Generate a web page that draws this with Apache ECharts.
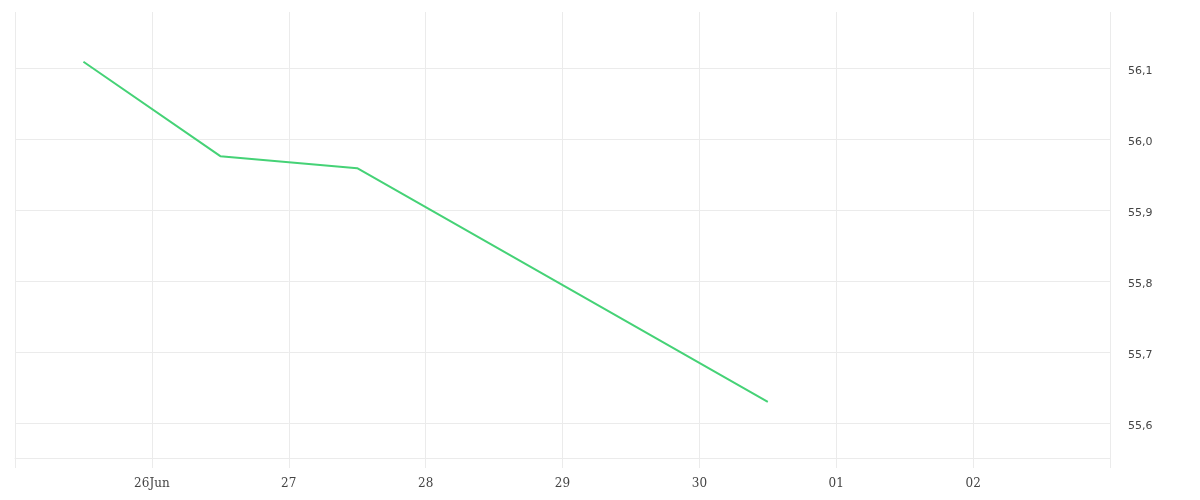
<!DOCTYPE html>
<html><head><meta charset="utf-8">
<script src="https://cdn.jsdelivr.net/npm/echarts@6/dist/echarts.min.js"></script>
<style>html,body{margin:0;padding:0;background:#fff}#c{width:1200px;height:500px}</style>
</head><body><div id="c"></div>
<script>
// x positions are day offsets from 25 Jun 00:00
const dayLabels = ['', '26Jun', '27', '28', '29', '30', '01', '02', ''];
const pointDays = [0.5, 1.5, 2.5, 5.5];
const values = [56.109, 55.976, 55.959, 55.630];

const chart = echarts.init(document.getElementById('c'));
const grid = '#ebebeb';
chart.setOption({
  animation: false,
  grid: { left: 15, right: 90, top: 12, bottom: 42 },
  xAxis: {
    type: 'value', min: 0, max: dayLabels.length - 1, interval: 1,
    axisLine: { show: true, lineStyle: { color: grid, width: 1 } },
    axisTick: { show: true, length: 10, lineStyle: { color: grid } },
    splitLine: { show: true, lineStyle: { color: grid } },
    axisLabel: {
      margin: 20, color: '#444', fontFamily: 'DejaVu Sans', fontSize: 12,
      fontFamily: 'DejaVu Serif',
      formatter: v => dayLabels[Math.round(v)] || ''
    }
  },
  yAxis: {
    type: 'value', position: 'right', min: 55.551, max: 56.179, scale: true,
    axisLine: { show: false }, axisTick: { show: false },
    splitLine: { show: true, showMaxLine: false, lineStyle: { color: grid } },
    axisLabel: {
      margin: 18, color: '#444', fontFamily: 'DejaVu Sans', fontSize: 11,
      verticalAlign: 'top', lineHeight: 6,
      showMinLabel: false, showMaxLabel: false,
      formatter: v => v.toFixed(1).replace('.', ',')
    }
  },
  series: [{
    type: 'line', data: pointDays.map((d, i) => [d, values[i]]),
    showSymbol: false, lineStyle: { color: '#45d276', width: 2 }
  }]
});
</script></body></html>
